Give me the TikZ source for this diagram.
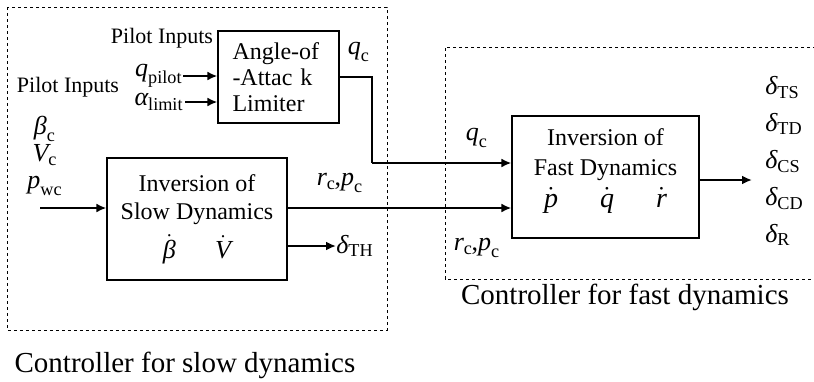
\documentclass[tikz,border=0pt]{standalone}
\usepackage{fontspec}
\setmainfont{Liberation Serif}
\usetikzlibrary{arrows.meta,positioning,calc}
\newcommand{\mi}[1]{\textit{#1}}

\begin{document}
\begin{tikzpicture}[
    x=0.5pt, y=-0.5pt,
    block/.style={rectangle, draw, line width=0.6pt, inner sep=0pt, font=\fontsize{12}{14}\selectfont},
    blocktext/.style={inner sep=0pt, align=center, font=\fontsize{12}{15}\selectfont},
    lbl/.style={inner sep=0pt, font=\fontsize{11}{13}\selectfont},
    sym/.style={inner sep=0pt, font=\fontsize{13}{13.5}\selectfont},
    caption/.style={inner sep=0pt, font=\fontsize{14.5}{16}\selectfont},
    frame/.style={line width=0.5pt, dash pattern=on 1.6pt off 1.4pt},
    arrow/.style={-{Latex[length=5pt,width=4.5pt]}, line width=1pt},
    wire/.style={line width=1pt}
]
    \useasboundingbox (0,0) rectangle (814,381);

    % controller frames
    \draw[frame] (7,7) rectangle (387,330);
    \draw[frame] (816,47) -- (445,47) -- (445,279) -- (816,279);

    % blocks
    \node[block, minimum width=60.5pt, minimum height=46pt, align=left, text width=46pt, font=\fontsize{12}{13}\selectfont] (aoa) at (278.5,77) {Angle-of\\-Attac k\\Limiter};
    \node[block, minimum width=90pt, minimum height=61pt, align=center] (slow) at (197,219) {Inversion of\\Slow Dynamics\\[4pt]{\fontsize{13}{13}\selectfont$\dot{\mi{β}}\quad\;\;\dot{\mi{V}}$}};
    \node[block, minimum width=93.5pt, minimum height=61pt] (fast) at (605.5,177) {};
    \node[blocktext] (fasttext) at ([yshift=3pt]fast.center) {Inversion of\\Fast Dynamics\\[1pt]{\fontsize{14}{14}\selectfont$\dot{\mi{p}}\hspace{21pt}\dot{\mi{q}}\hspace{21pt}\dot{\mi{r}}$}};

    % pilot inputs
    \node[lbl] (pilottop) at (162,38) {Pilot Inputs};
    \node[lbl] (pilotleft) at (68,87) {Pilot Inputs};
    \node[sym, anchor=east] (qpilot) at (183,76) {$\mi{q}_{\mathrm{pilot}}$};
    \node[sym, anchor=east] (alim) at (184,102) {$\mi{α}_{\mathrm{limit}}$};
    \node[sym, align=center] (cmds) at (45,156) {$\mi{β}_{\mathrm{c}}$\\$\mi{V}_{\mathrm{c}}$\\$\mi{p}_{\mathrm{wc}}$};

    % signal labels
    \node[sym] (qclbl) at (359,52) {$\mi{q}_{\mathrm{c}}$};
    \node[sym] (rplbl) at (340,183) {$\mi{r}_{\mathrm{c}}\mkern-1mu\mbox{,}\mi{p}_{\mathrm{c}}$};
    \node[sym, anchor=west] (dth) at (336,246) {$\mi{δ}_{\mathrm{TH}}$};
    \node[sym] (qcfast) at (477,138) {$\mi{q}_{\mathrm{c}}$};
    \node[sym] (rpfast) at (477,248) {$\mi{r}_{\mathrm{c}}\mkern-1mu\mbox{,}\mi{p}_{\mathrm{c}}$};
    \node[sym, anchor=west, align=left, font=\fontsize{13}{18.5}\selectfont] (deltas) at (765,161) {$\mi{δ}_{\mathrm{TS}}$\\$\mi{δ}_{\mathrm{TD}}$\\$\mi{δ}_{\mathrm{CS}}$\\$\mi{δ}_{\mathrm{CD}}$\\$\mi{δ}_{\mathrm{R}}$};

    % captions
    \node[caption] (slowcap) at (185,365) {Controller for slow dynamics};
    \node[caption] (fastcap) at (625,297) {Controller for fast dynamics};

    % connectors
    \coordinate (inp) at (40,208);
    \coordinate (qcbend) at (372,163);
    \coordinate (outend) at (752,180);
    \draw[arrow] (qpilot) -- (qpilot -| aoa.west);
    \draw[arrow] (alim.east) ++(1,0) -- (alim -| aoa.west);
    \draw[wire] (aoa.east) -| (qcbend);
    \draw[arrow] (qcbend) -- (qcbend -| fast.west);
    \draw[arrow] (inp) -- (inp -| slow.west);
    \draw[arrow] (inp -| slow.east) -- (inp -| fast.west);
    \draw[arrow] (slow.east |- dth) -- (dth.west);
    \draw[arrow] (fast.east |- outend) -- (outend);
\end{tikzpicture}
\end{document}
